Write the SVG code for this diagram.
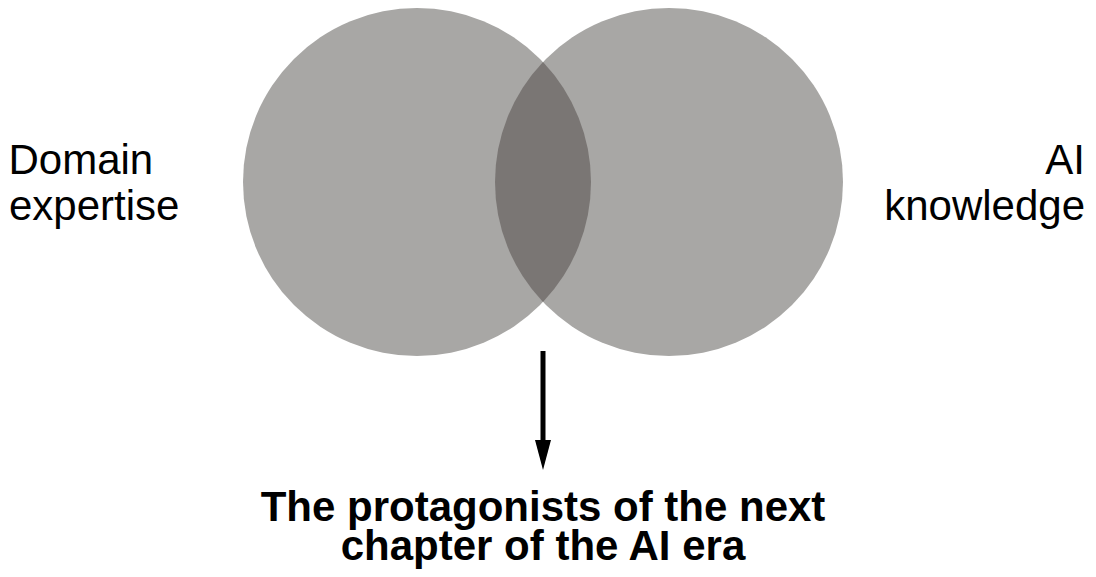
<svg xmlns="http://www.w3.org/2000/svg" width="1096" height="577" viewBox="0 0 1096 577">
  <defs>
    <style>
      .circle { fill: #a8a7a5; }
      .lens { fill: #7a7674; }
      .label { font-family: "Liberation Sans", Arial, sans-serif; font-size: 42px; fill: #000; }
      .result { font-family: "Liberation Sans", Arial, sans-serif; font-size: 42px; font-weight: bold; fill: #000; }
      .conn { stroke: #000; stroke-width: 5; fill: none; }
    </style>
  </defs>
  <rect width="1096" height="577" fill="#ffffff"/>
  <g id="domain-circle">
    <circle class="circle" cx="417" cy="182" r="174"/>
  </g>
  <g id="ai-circle">
    <circle class="circle" cx="669" cy="182" r="174"/>
  </g>
  <g id="intersection">
    <path class="lens" d="M543 62 A174 174 0 0 1 543 302 A174 174 0 0 1 543 62 Z"/>
  </g>
  <g id="domain-label">
    <text class="label" x="8.5" y="174">Domain</text>
    <text class="label" x="9" y="220">expertise</text>
  </g>
  <g id="ai-label">
    <text class="label" x="1085" y="174" text-anchor="end">AI</text>
    <text class="label" x="1085" y="220" text-anchor="end">knowledge</text>
  </g>
  <g id="connectors">
    <line class="conn" x1="543" y1="351" x2="543" y2="442"/>
    <polygon points="535,440 551,440 543,470" fill="#000"/>
  </g>
  <g id="result">
    <text class="result" x="543" y="521" text-anchor="middle">The protagonists of the next</text>
    <text class="result" x="543" y="560" text-anchor="middle">chapter of the AI era</text>
  </g>
</svg>
